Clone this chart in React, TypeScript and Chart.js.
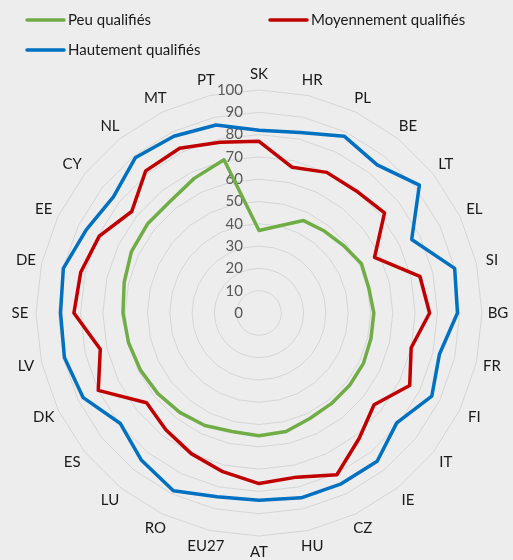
import { useEffect, useRef } from 'react';
import { Chart, registerables } from 'chart.js';

Chart.register(...registerables);

const categories = ['SK', 'HR', 'PL', 'BE', 'LT', 'EL', 'SI', 'BG', 'FR', 'FI', 'IT', 'IE', 'CZ', 'HU', 'AT', 'EU27', 'RO', 'LU', 'ES', 'DK', 'LV', 'SE', 'DE', 'EE', 'CY', 'NL', 'MT', 'PT'];
const peuQualifies = [37, 40, 46, 47, 48.5, 51, 50.5, 51.5, 51.5, 52, 52, 52, 52.5, 54.5, 55, 54.5, 56, 57, 58, 59, 60, 61, 62, 63.5, 64, 64, 67, 70.5];
const moyennementQualifies = [77, 67, 70, 70, 72, 57.5, 74, 76.5, 70, 75, 66, 72, 80.5, 75.5, 76.5, 73, 70, 67, 64.5, 80, 73, 83, 82, 79.5, 73, 81.5, 82, 78.5];
const hautementQualifies = [82, 83, 88, 85, 92, 76, 90, 89, 83, 86, 79, 85, 85, 85, 84, 84.5, 88.5, 84.5, 79.5, 87.5, 89.5, 89, 90, 86, 83.5, 89, 88, 86.5];
const tickValues = [0, 10, 20, 30, 40, 50, 60, 70, 80, 90, 100];
const seriesNames = ['Peu qualifiés', 'Moyennement qualifiés', 'Hautement qualifiés'];
const seriesColors = ['#70ad47', '#c00000', '#0070c0'];

const BG = '#ededed';
const FONT = 'Lato, "Liberation Sans", sans-serif';

export default function App() {
  const ref = useRef<HTMLCanvasElement>(null);

  useEffect(() => {
    document.body.style.margin = '0';
    document.body.style.background = BG;
    const canvas = ref.current;
    if (!canvas) return;

    const bgPlugin = {
      id: 'bg',
      beforeDraw(chart: any) {
        const { ctx, width, height } = chart;
        ctx.save();
        ctx.fillStyle = BG;
        ctx.fillRect(0, 0, width, height);
        ctx.restore();
      },
    };

    const ticksPlugin = {
      id: 'rticks',
      beforeDatasetsDraw(chart: any) {
        const s = chart.scales.r;
        const ctx = chart.ctx;
        ctx.save();
        ctx.font = `15px ${FONT}`;
        ctx.fillStyle = '#595959';
        ctx.textAlign = 'right';
        ctx.textBaseline = 'middle';
        tickValues.forEach((v) => {
          const d = s.getDistanceFromCenterForValue(v);
          ctx.fillText(String(v), s.xCenter - 16, s.yCenter - d);
        });
        ctx.restore();
      },
    };

    const labelsPlugin = {
      id: 'plabels',
      afterDraw(chart: any) {
        const s = chart.scales.r;
        const ctx = chart.ctx;
        ctx.save();
        ctx.font = `15px ${FONT}`;
        ctx.fillStyle = '#1a1a1a';
        ctx.textAlign = 'center';
        ctx.textBaseline = 'middle';
        categories.forEach((c, i) => {
          const p = s.getPointPosition(i, s.drawingArea + 16);
          ctx.fillText(c, p.x, p.y);
        });
        // legend
        const items = [
          { x: 27, y: 20 },
          { x: 270, y: 20 },
          { x: 27, y: 50 },
        ];
        items.forEach((it, k) => {
          ctx.strokeStyle = seriesColors[k];
          ctx.lineWidth = 3.5;
          ctx.lineCap = 'round';
          ctx.beginPath();
          ctx.moveTo(it.x, it.y);
          ctx.lineTo(it.x + 37, it.y);
          ctx.stroke();
          ctx.fillStyle = '#1a1a1a';
          ctx.textAlign = 'left';
          ctx.fillText(seriesNames[k], it.x + 41, it.y);
        });
        ctx.restore();
      },
    };

    const series = [peuQualifies, moyennementQualifies, hautementQualifies];

    const chart = new Chart(canvas, {
      type: 'radar',
      data: {
        labels: categories,
        datasets: series.map((d, k) => ({
          label: seriesNames[k],
          data: d,
          borderColor: seriesColors[k],
          backgroundColor: seriesColors[k],
          borderWidth: 3.5,
          pointRadius: 0,
          pointHoverRadius: 0,
          fill: false,
          tension: 0,
          borderJoinStyle: 'round' as const,
        })),
      },
      options: {
        responsive: false,
        animation: false,
        layout: { padding: { left: 36, right: 31, top: 90, bottom: 24 } },
        plugins: {
          legend: { display: false },
          tooltip: { enabled: false },
          title: { display: false },
        },
        scales: {
          r: {
            min: 0,
            max: 100,
            ticks: { display: false, stepSize: 10 },
            grid: { color: '#d6d6d6', lineWidth: 1 },
            angleLines: { display: false },
            pointLabels: { display: false },
          },
        },
      },
      plugins: [bgPlugin, ticksPlugin, labelsPlugin],
    });

    return () => chart.destroy();
  }, []);

  return (
    <div style={{ width: 513, height: 560, background: BG }}>
      <canvas ref={ref} width={513} height={560} style={{ display: 'block' }} />
    </div>
  );
}
